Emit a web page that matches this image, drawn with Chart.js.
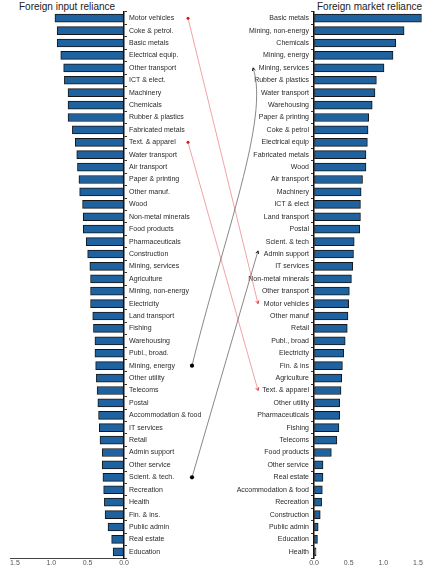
<!DOCTYPE html>
<html>
<head>
<meta charset="utf-8">
<script src="https://cdn.jsdelivr.net/npm/chart.js@4.4.1/dist/chart.umd.min.js"></script>
<style>
  body { margin: 0; background: #fff; }
  #wrap { position: relative; width: 427px; height: 573px; }
  #wrap canvas { position: absolute; left: 0; top: 0; }
  .ttl { position: absolute; top: 1px; font: 10px "Liberation Sans", Arial, sans-serif; line-height: 12px; color: #222; white-space: nowrap; }
</style>
</head>
<body>
<div id="wrap">
  <div class="ttl" style="left:19px">Foreign input reliance</div>
  <div class="ttl" style="left:317px">Foreign market reliance</div>
  <canvas id="inputChart" width="427" height="573"></canvas>
  <canvas id="marketChart" width="427" height="573"></canvas>
</div>
<script>
// left panel: foreign input reliance by sector
const inputSectors = [
  'Motor vehicles', 'Coke & petrol.', 'Basic metals', 'Electrical equip.', 'Other transport',
  'ICT & elect.', 'Machinery', 'Chemicals', 'Rubber & plastics', 'Fabricated metals',
  'Text. & apparel', 'Water transport', 'Air transport', 'Paper & printing', 'Other manuf.',
  'Wood', 'Non-metal minerals', 'Food products', 'Pharmaceuticals', 'Construction',
  'Mining, services', 'Agriculture', 'Mining, non-energy', 'Electricity', 'Land transport',
  'Fishing', 'Warehousing', 'Publ., broad.', 'Mining, energy', 'Other utility',
  'Telecoms', 'Postal', 'Accommodation & food', 'IT services', 'Retail',
  'Admin support', 'Other service', 'Scient. & tech.', 'Recreation', 'Health',
  'Fin. & ins.', 'Public admin', 'Real estate', 'Education'
];
const inputValues = [
  0.95, 0.92, 0.92, 0.87, 0.83,
  0.82, 0.77, 0.77, 0.77, 0.71,
  0.67, 0.65, 0.64, 0.62, 0.61,
  0.57, 0.56, 0.56, 0.52, 0.50,
  0.47, 0.46, 0.46, 0.46, 0.43,
  0.42, 0.40, 0.40, 0.39, 0.38,
  0.37, 0.36, 0.35, 0.34, 0.33,
  0.30, 0.30, 0.29, 0.28, 0.27,
  0.26, 0.22, 0.17, 0.15
];

// right panel: foreign market reliance by sector
const marketSectors = [
  'Basic metals', 'Mining, non-energy', 'Chemicals', 'Mining, energy', 'Mining, services',
  'Rubber & plastics', 'Water transport', 'Warehousing', 'Paper & printing', 'Coke & petrol',
  'Electrical equip', 'Fabricated metals', 'Wood', 'Air transport', 'Machinery',
  'ICT & elect', 'Land transport', 'Postal', 'Scient. & tech', 'Admin support',
  'IT services', 'Non-metal minerals', 'Other transport', 'Motor vehicles', 'Other manuf',
  'Retail', 'Publ., broad', 'Electricity', 'Fin. & ins', 'Agriculture',
  'Text. & apparel', 'Other utility', 'Pharmaceuticals', 'Fishing', 'Telecoms',
  'Food products', 'Other service', 'Real estate', 'Accommodation & food', 'Recreation',
  'Construction', 'Public admin', 'Education', 'Health'
];
const marketValues = [
  1.55, 1.30, 1.18, 1.14, 1.01,
  0.90, 0.88, 0.84, 0.79, 0.78,
  0.77, 0.75, 0.75, 0.70, 0.68,
  0.67, 0.67, 0.66, 0.58, 0.57,
  0.56, 0.54, 0.51, 0.50, 0.49,
  0.48, 0.45, 0.43, 0.41, 0.40,
  0.39, 0.37, 0.37, 0.36, 0.33,
  0.25, 0.13, 0.13, 0.12, 0.11,
  0.09, 0.06, 0.05, 0.03
];

const tickValues = [0, 0.5, 1.0, 1.5];

// sectors linked between the two panels (left label -> right label)
const linkFrom = ['Motor vehicles', 'Text. & apparel', 'Mining, energy', 'Scient. & tech.'];
const linkTo = ['Motor vehicles', 'Text. & apparel', 'Mining, energy', 'Scient. & tech'];

// link styling
const linkColors = ['#ee8a90', '#ee8a90', '#6a6a6a', '#6a6a6a'];
const linkDotColors = ['#d7191c', '#d7191c', '#000000', '#000000'];
const linkNudge = [0, 0, 1, 0.75];   // arrow tip offset, in rows
const linkHook = [false, false, true, false];

const FONT = '"Liberation Sans", Arial, sans-serif';
const BAR_FILL = '#1f62a0';
const BAR_EDGE = '#151515';

function barDataset(values) {
  return {
    data: values,
    backgroundColor: BAR_FILL,
    borderColor: BAR_EDGE,
    borderWidth: 1,
    borderSkipped: false,
    barThickness: 8
  };
}

function xAxis(reverse, max, showLine) {
  return {
    type: 'linear',
    reverse: reverse,
    min: 0,
    max: max,
    grid: { drawOnChartArea: false, drawTicks: false },
    border: { display: showLine, color: '#444', width: 1 },
    afterBuildTicks: (s) => { s.ticks = tickValues.map(v => ({ value: v })); },
    afterFit: (s) => { s.height = 15; },
    ticks: {
      padding: 1,
      maxRotation: 0,
      color: '#555',
      font: { family: FONT, size: 7 },
      callback: (v) => Number(v).toFixed(1)
    }
  };
}

function yAxis(position, width) {
  return {
    position: position,
    grid: { drawOnChartArea: false, drawTicks: true, tickLength: 3, color: '#333' },
    border: { display: true, color: '#111', width: 1.5 },
    afterFit: (s) => { s.width = width; },
    ticks: {
      padding: 2,
      autoSkip: false,
      color: '#2a2a2a',
      font: { family: FONT, size: 7 }
    }
  };
}

const inputChart = new Chart(document.getElementById('inputChart'), {
  type: 'bar',
  data: { labels: inputSectors, datasets: [barDataset(inputValues)] },
  options: {
    indexAxis: 'y',
    responsive: false,
    animation: false,
    layout: { padding: { left: 10, right: 213, top: 12, bottom: 0 } },
    scales: {
      x: xAxis(true, 1.568, true),
      y: yAxis('right', 90)
    },
    plugins: { legend: { display: false }, tooltip: { enabled: false } }
  }
});

// draws the links between the two panels
const linkPlugin = {
  id: 'links',
  afterDraw(chart) {
    const ctx = chart.ctx;
    const yL = inputChart.scales.y;
    const yR = chart.scales.y;
    const row = yR.getPixelForValue(1) - yR.getPixelForValue(0);
    const xStart = inputChart.chartArea.right + 64;
    const xEnd = chart.chartArea.left - 56;
    ctx.save();
    linkFrom.forEach((name, i) => {
      const black = i > 1;
      const x0 = xStart + (black ? 4 : 0);
      const y0 = yL.getPixelForValue(inputSectors.indexOf(name));
      const x1 = xEnd - (linkHook[i] ? 5 : 0);
      const y1 = yR.getPixelForValue(marketSectors.indexOf(linkTo[i])) + linkNudge[i] * row;
      const dx = x1 - x0, dy = y1 - y0;
      let c1 = [x0 + dx / 3, y0 + dy / 3];
      let c2 = [x0 + 2 * dx / 3, y0 + 2 * dy / 3];
      if (linkHook[i]) {
        // runs up past the label, then hooks back onto it
        c1 = [x0 + dx * 0.53, y0 + dy * 0.44];
        c2 = [x1 + 17, y1 + 4 * row];
      }
      ctx.strokeStyle = linkColors[i];
      ctx.lineWidth = 0.8;
      ctx.beginPath();
      ctx.moveTo(x0, y0);
      ctx.bezierCurveTo(c1[0], c1[1], c2[0], c2[1], x1, y1);
      ctx.stroke();
      // arrow head along the final tangent
      const a = Math.atan2(y1 - c2[1], x1 - c2[0]);
      const h = 3.2;
      ctx.strokeStyle = linkDotColors[i];
      ctx.lineWidth = 0.9;
      ctx.beginPath();
      ctx.moveTo(x1 - h * Math.cos(a - 0.5), y1 - h * Math.sin(a - 0.5));
      ctx.lineTo(x1, y1);
      ctx.lineTo(x1 - h * Math.cos(a + 0.5), y1 - h * Math.sin(a + 0.5));
      ctx.stroke();
      // start dot
      ctx.fillStyle = linkDotColors[i];
      ctx.beginPath();
      ctx.arc(x0, y0, black ? 2.1 : 1.5, 0, Math.PI * 2);
      ctx.fill();
    });
    ctx.restore();
  }
};

const marketChart = new Chart(document.getElementById('marketChart'), {
  type: 'bar',
  data: { labels: marketSectors, datasets: [barDataset(marketValues)] },
  options: {
    indexAxis: 'y',
    responsive: false,
    animation: false,
    layout: { padding: { left: 214, right: 3, top: 12, bottom: 0 } },
    scales: {
      x: xAxis(false, 1.587, false),
      y: yAxis('left', 100)
    },
    plugins: { legend: { display: false }, tooltip: { enabled: false } }
  },
  plugins: [linkPlugin]
});
</script>
</body>
</html>
